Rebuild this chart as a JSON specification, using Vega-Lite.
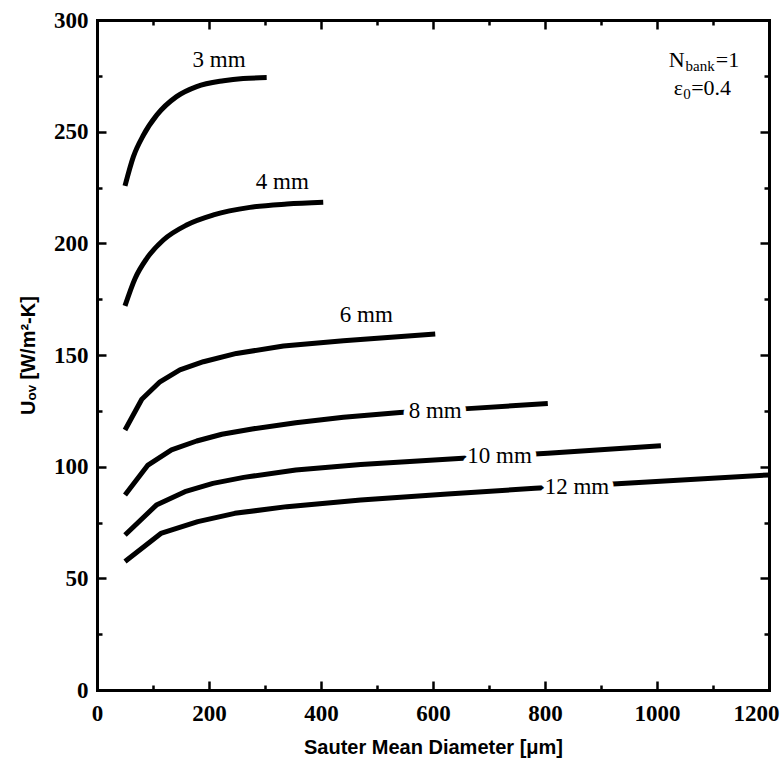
{
  "$schema": "https://vega.github.io/schema/vega-lite/v6.json",
  "autosize": {"type": "none"},
  "width": 672,
  "height": 670,
  "padding": {"left": 97, "top": 20, "right": 13, "bottom": 74},
  "background": "white",
  "config": {
    "view": {"stroke": null},
    "axis": {
      "domainColor": "black",
      "domainWidth": 3,
      "domainCap": "square",
      "tickColor": "black",
      "tickWidth": 2.5,
      "grid": false,
      "labelFont": "Liberation Serif",
      "labelFontWeight": "bold",
      "labelFontSize": 23,
      "labelColor": "black",
      "titleFont": "Liberation Sans",
      "titleFontWeight": "bold",
      "titleFontSize": 20,
      "titleColor": "black"
    }
  },
  "datasets": {
    "curves": [
      {"d": 50, "u": 225.7, "s": "3 mm"}, {"d": 65, "u": 238.8, "s": "3 mm"}, {"d": 83, "u": 248.5, "s": "3 mm"},
      {"d": 107, "u": 257.5, "s": "3 mm"}, {"d": 142, "u": 265.7, "s": "3 mm"}, {"d": 178, "u": 270.2, "s": "3 mm"},
      {"d": 226, "u": 272.8, "s": "3 mm"}, {"d": 261, "u": 273.8, "s": "3 mm"}, {"d": 303, "u": 274.2, "s": "3 mm"},
      {"d": 50, "u": 172.0, "s": "4 mm"}, {"d": 68, "u": 184.3, "s": "4 mm"}, {"d": 89, "u": 193.3, "s": "4 mm"},
      {"d": 118.5, "u": 201.5, "s": "4 mm"}, {"d": 160, "u": 208.2, "s": "4 mm"}, {"d": 208, "u": 212.7, "s": "4 mm"},
      {"d": 273, "u": 216.1, "s": "4 mm"}, {"d": 339, "u": 217.6, "s": "4 mm"}, {"d": 404, "u": 218.4, "s": "4 mm"},
      {"d": 50, "u": 116.4, "s": "6 mm"}, {"d": 80, "u": 130.2, "s": "6 mm"}, {"d": 112.5, "u": 138.0, "s": "6 mm"},
      {"d": 148, "u": 143.3, "s": "6 mm"}, {"d": 190, "u": 147.0, "s": "6 mm"}, {"d": 249, "u": 150.7, "s": "6 mm"},
      {"d": 333, "u": 154.0, "s": "6 mm"}, {"d": 440, "u": 156.4, "s": "6 mm"}, {"d": 604, "u": 159.4, "s": "6 mm"},
      {"d": 50, "u": 87.3, "s": "8 mm"}, {"d": 91, "u": 100.7, "s": "8 mm"}, {"d": 133, "u": 107.5, "s": "8 mm"},
      {"d": 178, "u": 111.5, "s": "8 mm"}, {"d": 223, "u": 114.5, "s": "8 mm"}, {"d": 277, "u": 116.9, "s": "8 mm"},
      {"d": 355, "u": 119.7, "s": "8 mm"}, {"d": 440, "u": 122.1, "s": "8 mm"}, {"d": 541, "u": 124.3, "s": "8 mm"},
      {"d": 669, "u": 126.1, "s": "8 mm"}, {"d": 805, "u": 128.3, "s": "8 mm"},
      {"d": 50, "u": 69.4, "s": "10 mm"}, {"d": 106, "u": 82.8, "s": "10 mm"}, {"d": 157, "u": 88.8, "s": "10 mm"},
      {"d": 207, "u": 92.5, "s": "10 mm"}, {"d": 262, "u": 95.2, "s": "10 mm"}, {"d": 355, "u": 98.5, "s": "10 mm"},
      {"d": 471, "u": 101.0, "s": "10 mm"}, {"d": 646, "u": 103.7, "s": "10 mm"}, {"d": 805, "u": 106.0, "s": "10 mm"},
      {"d": 1007, "u": 109.4, "s": "10 mm"},
      {"d": 50, "u": 57.5, "s": "12 mm"}, {"d": 114, "u": 70.1, "s": "12 mm"}, {"d": 180, "u": 75.4, "s": "12 mm"},
      {"d": 246, "u": 79.1, "s": "12 mm"}, {"d": 339, "u": 82.1, "s": "12 mm"}, {"d": 471, "u": 85.1, "s": "12 mm"},
      {"d": 626, "u": 87.8, "s": "12 mm"}, {"d": 782, "u": 90.3, "s": "12 mm"}, {"d": 929, "u": 92.3, "s": "12 mm"},
      {"d": 1200, "u": 96.3, "s": "12 mm"}
    ],
    "labels": [
      {"d": 218, "u": 282.0, "s": "3 mm"},
      {"d": 331, "u": 227.6, "s": "4 mm"},
      {"d": 481, "u": 168.0, "s": "6 mm"},
      {"d": 604, "u": 124.8, "s": "8 mm"},
      {"d": 719, "u": 105.0, "s": "10 mm"},
      {"d": 857, "u": 90.8, "s": "12 mm"}
    ],
    "noteMain": [
      {"d": 1021, "u": 279.0, "t": "N"},
      {"d": 1105, "u": 279.0, "t": "=1"},
      {"d": 1030, "u": 266.4, "t": "ε"},
      {"d": 1061, "u": 266.4, "t": "=0.4"}
    ],
    "noteSub": [
      {"d": 1051, "u": 277.2, "t": "bank"},
      {"d": 1047, "u": 264.6, "t": "0"}
    ]
  },
  "resolve": {"axis": {"x": "independent", "y": "independent"}},
  "layer": [
    {
      "data": {"name": "curves"},
      "transform": [{"filter": "datum.s !== '3 mm' && datum.s !== '4 mm'"}],
      "mark": {"type": "line", "color": "black", "strokeWidth": 5, "strokeCap": "butt", "strokeJoin": "round"},
      "encoding": {
        "x": {
          "field": "d", "type": "quantitative",
          "scale": {"domain": [0, 1200], "nice": false, "zero": false},
          "axis": {
            "orient": "bottom",
            "title": "Sauter Mean Diameter [μm]",
            "format": "d",
            "values": [0, 100, 200, 300, 400, 500, 600, 700, 800, 900, 1000, 1100, 1200],
            "labelExpr": "datum.value % 200 === 0 ? datum.label : ''",
            "tickSize": {"condition": {"test": "datum.value % 200 === 0", "value": -9}, "value": -5},
            "labelAlign": {"condition": {"test": "datum.value === 1200", "value": "right"}, "value": "center"},
            "labelOffset": {"condition": {"test": "datum.value === 1200", "value": 10}, "value": 0},
            "labelPadding": 21,
            "labelFlush": false,
            "labelOverlap": false,
            "titlePadding": 8
          }
        },
        "y": {
          "field": "u", "type": "quantitative",
          "scale": {"domain": [0, 300], "nice": false, "zero": false},
          "axis": {
            "orient": "left",
            "title": "Uₒᵥ [W/m²-K]",
            "format": "d",
            "values": [0, 25, 50, 75, 100, 125, 150, 175, 200, 225, 250, 275, 300],
            "labelExpr": "datum.value % 50 === 0 ? datum.label : ''",
            "tickSize": {"condition": {"test": "datum.value % 50 === 0", "value": -9}, "value": -5},
            "labelPadding": 18,
            "labelFlush": false,
            "labelOverlap": false,
            "titlePadding": 15
          }
        },
        "detail": {"field": "s", "type": "nominal"}
      }
    },
    {
      "data": {"name": "curves"},
      "transform": [{"filter": "datum.s === '3 mm' || datum.s === '4 mm'"}],
      "mark": {"type": "line", "color": "black", "strokeWidth": 5, "strokeCap": "butt", "interpolate": "monotone"},
      "encoding": {
        "x": {"field": "d", "type": "quantitative", "axis": null},
        "y": {"field": "u", "type": "quantitative", "axis": null},
        "detail": {"field": "s", "type": "nominal"}
      }
    },
    {
      "data": {"name": "labels"},
      "mark": {"type": "text", "font": "Liberation Serif", "fontSize": 23, "fill": "white", "stroke": "white", "strokeWidth": 12, "strokeJoin": "round", "align": "center", "baseline": "middle"},
      "encoding": {
        "x": {
          "field": "d", "type": "quantitative",
          "axis": {
            "orient": "top", "title": null, "labels": false,
            "values": [0, 100, 200, 300, 400, 500, 600, 700, 800, 900, 1000, 1100, 1200],
            "tickSize": {"condition": {"test": "datum.value % 200 === 0", "value": -9}, "value": -5}
          }
        },
        "y": {
          "field": "u", "type": "quantitative",
          "axis": {
            "orient": "right", "title": null, "labels": false,
            "values": [0, 25, 50, 75, 100, 125, 150, 175, 200, 225, 250, 275, 300],
            "tickSize": {"condition": {"test": "datum.value % 50 === 0", "value": -9}, "value": -5}
          }
        },
        "text": {"field": "s"}
      }
    },
    {
      "data": {"name": "labels"},
      "mark": {"type": "text", "font": "Liberation Serif", "fontSize": 23, "color": "black", "align": "center", "baseline": "middle"},
      "encoding": {
        "x": {"field": "d", "type": "quantitative", "axis": null},
        "y": {"field": "u", "type": "quantitative", "axis": null},
        "text": {"field": "s"}
      }
    },
    {
      "data": {"name": "noteMain"},
      "mark": {"type": "text", "font": "Liberation Serif", "fontSize": 22, "color": "black", "align": "left", "baseline": "alphabetic"},
      "encoding": {
        "x": {"field": "d", "type": "quantitative", "axis": null},
        "y": {"field": "u", "type": "quantitative", "axis": null},
        "text": {"field": "t"}
      }
    },
    {
      "data": {"name": "noteSub"},
      "mark": {"type": "text", "font": "Liberation Serif", "fontSize": 15, "color": "black", "align": "left", "baseline": "alphabetic"},
      "encoding": {
        "x": {"field": "d", "type": "quantitative", "axis": null},
        "y": {"field": "u", "type": "quantitative", "axis": null},
        "text": {"field": "t"}
      }
    }
  ]
}
